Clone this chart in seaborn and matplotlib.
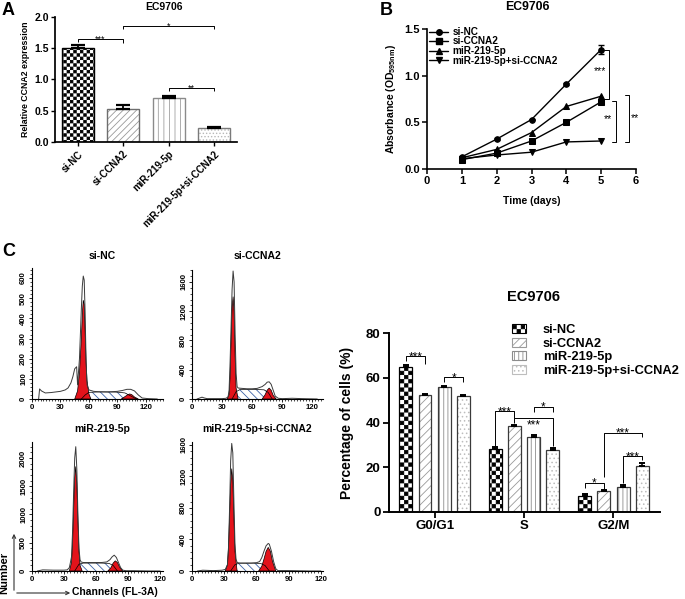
"""EC9706 figure: CCNA2 expression, growth curves and cell-cycle distribution."""

import matplotlib

matplotlib.use("Agg")

import matplotlib.colors as mcolors
import matplotlib.hatch as mhatch
import matplotlib.pyplot as plt
import numpy as np
import pandas as pd
import seaborn as sns
from matplotlib.lines import Line2D
from matplotlib.patches import FancyArrowPatch, Patch
from matplotlib.path import Path as MPath
from matplotlib.ticker import AutoMinorLocator, FormatStrFormatter

# ---- panel A: relative CCNA2 expression ----
A_GROUPS = ["si-NC", "si-CCNA2", "miR-219-5p", "miR-219-5p+si-CCNA2"]
A_MEANS = [1.50, 0.52, 0.71, 0.22]
A_SD = [0.05, 0.07, 0.03, 0.025]

# ---- panel B: absorbance over time ----
B_DAYS = [1, 2, 3, 4, 5]
B_GROUPS = ["si-NC", "si-CCNA2", "miR-219-5p", "miR-219-5p+si-CCNA2"]
B_SINC = [0.13, 0.32, 0.53, 0.91, 1.28]
B_SICCNA2 = [0.10, 0.17, 0.30, 0.50, 0.72]
B_MIR = [0.12, 0.21, 0.39, 0.67, 0.78]
B_COMBO = [0.11, 0.15, 0.18, 0.29, 0.30]
B_SINC_SD = [0.01, 0.01, 0.01, 0.01, 0.05]

# ---- panel C: flow cytometry histograms (channel, count) ----
NC_LINE_X = [7, 8, 10, 14, 20, 25, 30, 35, 38, 41, 43, 45, 47, 48, 50, 52, 53, 54, 55, 56,
             57, 58, 60, 65, 70, 80, 90, 95, 100, 104, 108, 112, 116, 122, 132]
NC_LINE_Y = [0, 50, 40, 30, 32, 35, 38, 45, 55, 80, 110, 150, 160, 70, 200, 450, 560, 610, 590, 420,
             180, 70, 45, 38, 36, 35, 38, 42, 48, 48, 40, 20, 5, 2, 0]
NC_G1_X = [45, 48, 50, 52, 53, 54, 55, 56, 57, 58, 60, 62]
NC_G1_Y = [0, 40, 130, 300, 420, 490, 470, 330, 180, 90, 25, 0]
NC_S_X = [52, 56, 60, 70, 80, 90, 98, 104, 110]
NC_S_Y = [0, 20, 33, 35, 35, 34, 30, 15, 0]
NC_G2_X = [94, 98, 101, 103, 105, 108, 112]
NC_G2_Y = [0, 12, 22, 25, 22, 10, 0]

CC_LINE_X = [5, 8, 10, 12, 15, 20, 30, 34, 36, 37, 38, 39, 40, 41, 42, 43, 44, 45, 46, 50,
             55, 60, 65, 70, 73, 75, 77, 79, 81, 83, 86, 90, 100, 110, 125]
CC_LINE_Y = [0, 15, 25, 15, 5, 5, 5, 10, 30, 120, 500, 1000, 1500, 1750, 1600, 900, 350, 170, 150, 145,
             140, 140, 145, 170, 200, 230, 235, 200, 120, 40, 10, 5, 10, 5, 0]
CC_G1_X = [35, 37, 38, 39, 40, 41, 42, 43, 44, 46]
CC_G1_Y = [0, 60, 300, 800, 1250, 1400, 1200, 600, 150, 0]
CC_S_X = [40, 44, 48, 55, 65, 72, 76, 80]
CC_S_Y = [0, 100, 130, 130, 130, 125, 90, 0]
CC_G2_X = [70, 73, 75, 77, 79, 81, 84]
CC_G2_Y = [0, 60, 120, 150, 120, 50, 0]

MIR_LINE_X = [5, 10, 20, 30, 33, 35, 37, 38, 39, 40, 41, 42, 43, 44, 45, 46, 48, 55, 65, 70,
              73, 75, 77, 79, 81, 83, 85, 88, 95, 110, 120]
MIR_LINE_Y = [0, 20, 15, 15, 20, 60, 250, 700, 1400, 2000, 2200, 1800, 1000, 400, 200, 160, 150, 150, 150, 160,
              200, 250, 280, 240, 150, 60, 15, 5, 5, 0, 0]
MIR_G1_X = [35, 37, 38, 39, 40, 41, 42, 43, 44, 45, 47]
MIR_G1_Y = [0, 150, 500, 1100, 1650, 1850, 1550, 900, 350, 100, 0]
MIR_S_X = [40, 44, 48, 55, 65, 72, 76, 80]
MIR_S_Y = [0, 120, 140, 140, 140, 135, 100, 0]
MIR_G2_X = [71, 74, 76, 78, 80, 82, 85]
MIR_G2_Y = [0, 60, 140, 180, 150, 70, 0]

MC_LINE_X = [5, 10, 20, 28, 31, 33, 34, 35, 36, 37, 38, 39, 40, 41, 42, 44, 50, 55, 60, 63,
             65, 67, 69, 71, 72, 74, 76, 78, 80, 90, 110, 120]
MC_LINE_Y = [0, 10, 5, 10, 20, 80, 300, 800, 1400, 1620, 1500, 900, 350, 150, 110, 100, 100, 100, 105, 120,
             170, 250, 320, 350, 340, 250, 120, 30, 5, 5, 0, 0]
MC_G1_X = [31, 33, 34, 35, 36, 37, 38, 39, 40, 42]
MC_G1_Y = [0, 80, 300, 700, 1100, 1300, 1150, 700, 250, 0]
MC_S_X = [36, 40, 44, 50, 58, 64, 68, 72]
MC_S_Y = [0, 80, 100, 100, 100, 95, 70, 0]
MC_G2_X = [62, 65, 67, 69, 71, 73, 75, 78]
MC_G2_Y = [0, 60, 150, 250, 300, 250, 120, 0]

# ---- panel D: percentage of cells per phase ----
D_PHASES = ["G0/G1", "S", "G2/M"]
D_GROUPS = ["si-NC", "si-CCNA2", "miR-219-5p", "miR-219-5p+si-CCNA2"]
D_SINC = [65.0, 28.0, 7.2]
D_SICCNA2 = [52.1, 38.4, 9.5]
D_MIR = [55.7, 33.7, 11.0]
D_COMBO = [51.8, 27.6, 20.7]
D_SINC_SD = [0.9, 0.9, 0.8]
D_SICCNA2_SD = [0.6, 0.7, 0.4]
D_MIR_SD = [0.7, 0.6, 1.0]
D_COMBO_SD = [0.5, 0.8, 1.3]

W, H = 685, 599


class CheckerHatch(mhatch.HatchPatternBase):
    """Filled checkerboard hatch, used for the '*' hatch character."""

    def __init__(self, hatch, density):
        self.num_cells = hatch.count("*") * density
        self.num_vertices = (self.num_cells ** 2 // 2) * 5 if self.num_cells else 0

    def set_vertices_and_codes(self, vertices, codes):
        n = self.num_cells
        step = 1.0 / n
        shrink = 0.004  # the hatch stroke grows every square a little
        k = 0
        for i in range(n):
            for j in range(n):
                if (i + j) % 2:
                    continue
                x0, y0 = i * step + shrink, j * step + shrink
                x1, y1 = (i + 1) * step - shrink, (j + 1) * step - shrink
                vertices[k:k + 5] = [(x0, y0), (x1, y0), (x1, y1), (x0, y1), (x0, y0)]
                codes[k:k + 5] = [MPath.MOVETO, MPath.LINETO, MPath.LINETO,
                                  MPath.LINETO, MPath.CLOSEPOLY]
                k += 5


mhatch._hatch_types = [CheckerHatch if t is mhatch.Stars else t for t in mhatch._hatch_types]


def box(left, top, right, bottom):
    return [left / W, 1 - bottom / H, (right - left) / W, (bottom - top) / H]


def fig_text(fig, x, y, s, **kw):
    fig.text(x / W, 1 - y / H, s, **kw)


def style_bar(patch, hatch, edge, hatch_color, lw):
    patch.set_hatch(hatch)
    patch.set_edgecolor(edge)
    patch.set_linewidth(lw)
    patch._hatch_color = mcolors.to_rgba(hatch_color)


def bracket(ax, x0, x1, y, y0, y1, text, fs):
    ax.plot([x0, x0, x1, x1], [y0, y, y, y1], color="black", lw=0.7,
            solid_capstyle="butt", clip_on=False)
    ax.annotate(text, ((x0 + x1) / 2, y), xytext=(0, -fs * 0.33), textcoords="offset points",
                ha="center", va="baseline", fontsize=fs, fontweight="normal")


def draw_panel_a(fig):
    ax = fig.add_axes(box(55, 17, 237, 142))
    sns.barplot(x=A_GROUPS, y=A_MEANS, color="white", saturation=1, width=0.7,
                errorbar=None, ax=ax)
    styles = [("*****", "black", "black"), ("/////", "#6e6e6e", "#9a9a9a"),
              ("|||", "#8a8a8a", "#a0a0a0"), (".....", "#7a7a7a", "#b8b8b8")]
    for bar, (hatch, edge, hc) in zip(ax.patches, styles):
        style_bar(bar, hatch, edge, hc, 1.0)
    xs = [p.get_x() + p.get_width() / 2 for p in ax.patches]
    ax.errorbar(xs, A_MEANS, yerr=[np.zeros(4), A_SD], fmt="none", ecolor="black",
                elinewidth=1.3, capsize=5, capthick=1.6)

    bracket(ax, xs[0], xs[1], 1.65, 1.60, 1.59, "***", 6.5)
    bracket(ax, xs[1], xs[3], 1.86, 1.81, 1.81, "*", 6.5)
    bracket(ax, xs[2], xs[3], 0.86, 0.81, 0.81, "**", 6.5)

    ax.set_xlim(-0.5, 3.5)
    ax.set_ylim(0, 2.0)
    ax.set_yticks(np.arange(0, 2.01, 0.5))
    ax.yaxis.set_major_formatter(FormatStrFormatter("%.1f"))
    ax.set_xticks(range(4))
    ax.set_xticklabels(A_GROUPS, rotation=45, ha="right", rotation_mode="anchor", fontsize=7)
    ax.tick_params(axis="y", labelsize=7.5, length=3, width=1, pad=1.5)
    ax.tick_params(axis="x", length=3, width=1, pad=2)
    ax.set_ylabel("Relative CCNA2 expression", fontsize=6.3)
    ax.yaxis.set_label_coords(-0.135, 0.5)
    sns.despine(ax=ax)

    fig_text(fig, 164, 7, "EC9706", ha="center", va="center", fontsize=7.5)
    fig_text(fig, 2, 2, "A", ha="left", va="top", fontsize=13)


def draw_panel_b(fig):
    ax = fig.add_axes(box(427, 29, 636, 169))
    series = [B_SINC, B_SICCNA2, B_MIR, B_COMBO]
    markers = ["o", "s", "^", "v"]
    handles = []
    for vals, marker in zip(series, markers):
        sns.lineplot(x=B_DAYS, y=vals, marker=marker, color="black", linewidth=1.0,
                     markersize=4, markeredgecolor="black", ax=ax)
        handles.append(Line2D([], [], color="black", lw=1.0, marker=marker, markersize=4))
    ax.errorbar(B_DAYS, B_SINC, yerr=B_SINC_SD, fmt="none", ecolor="black",
                elinewidth=1.0, capsize=2.5, capthick=1.0)

    # vertical significance brackets on the right
    for x, y_top, y_bot, x_text, y_text, text in [
        (5.22, 1.28, 0.745, 4.98, 1.05, "***"),
        (5.44, 0.73, 0.29, 5.20, 0.53, "**"),
        (5.80, 0.79, 0.29, 5.96, 0.55, "**"),
    ]:
        ax.plot([x - 0.13, x, x, x - 0.13], [y_top, y_top, y_bot, y_bot], color="black",
                lw=0.7, clip_on=False)
        ax.text(x_text, y_text, text, ha="center", va="center", fontsize=7.5,
                fontweight="normal")

    leg = ax.legend(handles, B_GROUPS, loc="upper left", bbox_to_anchor=(429 / W, 1 - 27 / H),
                    bbox_transform=fig.transFigure, frameon=False, fontsize=7.2,
                    handlelength=1.9, handletextpad=0.45, labelspacing=-0.05,
                    borderpad=0, borderaxespad=0)
    for t in leg.get_texts():
        t.set_fontweight("bold")

    ax.set_xlim(0, 6)
    ax.set_ylim(0, 1.5)
    ax.set_xticks(range(7))
    ax.set_yticks([0, 0.5, 1.0, 1.5])
    ax.yaxis.set_major_formatter(FormatStrFormatter("%.1f"))
    ax.tick_params(labelsize=8, length=3.5, width=1.1, pad=1.5)
    ax.set_xlabel("Time (days)", fontsize=7.5)
    ax.set_ylabel(r"Absorbance (OD$_{\mathbf{595nm}}$)", fontsize=7.5)
    ax.yaxis.set_label_coords(-0.14, 0.5)
    ax.xaxis.set_label_coords(0.5, -0.19)
    for s in ("left", "bottom"):
        ax.spines[s].set_linewidth(1.2)
    sns.despine(ax=ax)

    fig_text(fig, 527, 7, "EC9706", ha="center", va="center", fontsize=8.8)
    fig_text(fig, 380, 2, "B", ha="left", va="top", fontsize=13)


def draw_flow(fig, rect, title, title_xy, x_max, y_max, y_step, line, g1, s_phase, g2):
    ax = fig.add_axes(box(*rect))
    ax.fill(s_phase[0], s_phase[1], facecolor="white", edgecolor="#3d63a8",
            hatch="\\\\\\\\", linewidth=0)
    ax.plot(s_phase[0], s_phase[1], color="black", lw=0.5)
    for peak in (g1, g2):
        ax.fill(peak[0], peak[1], facecolor="#e3131b", edgecolor="black", linewidth=0.5)
    ax.plot(line[0], line[1], color="#3a3a3a", lw=0.7)

    ax.set_xlim(0, x_max)
    ax.set_ylim(0, y_max)
    ax.set_xticks([0, 30, 60, 90, 120])
    ax.set_yticks(np.arange(0, y_max, y_step))
    ax.xaxis.set_minor_locator(AutoMinorLocator(10))
    ax.yaxis.set_minor_locator(AutoMinorLocator(5))
    ax.tick_params(which="major", labelsize=5.6, length=2.5, width=0.6, pad=1)
    ax.tick_params(which="minor", length=1.4, width=0.5)
    ax.tick_params(axis="y", labelrotation=90)
    for t in ax.get_yticklabels():
        t.set_va("center")
    for sp in ("left", "bottom"):
        ax.spines[sp].set_linewidth(0.8)
    sns.despine(ax=ax)
    fig_text(fig, title_xy[0], title_xy[1], title, ha="center", va="center", fontsize=7.5)


def draw_panel_c(fig):
    draw_flow(fig, (32, 268, 163, 399), "si-NC", (102, 256), 138, 650, 100,
              (NC_LINE_X, NC_LINE_Y), (NC_G1_X, NC_G1_Y), (NC_S_X, NC_S_Y), (NC_G2_X, NC_G2_Y))
    draw_flow(fig, (192, 270, 323, 399), "si-CCNA2", (257, 256), 130.7, 1764, 400,
              (CC_LINE_X, CC_LINE_Y), (CC_G1_X, CC_G1_Y), (CC_S_X, CC_S_Y), (CC_G2_X, CC_G2_Y))
    draw_flow(fig, (32, 442, 163, 571), "miR-219-5p", (102, 429), 122.7, 2283, 500,
              (MIR_LINE_X, MIR_LINE_Y), (MIR_G1_X, MIR_G1_Y), (MIR_S_X, MIR_S_Y),
              (MIR_G2_X, MIR_G2_Y))
    draw_flow(fig, (192, 442, 323, 571), "miR-219-5p+si-CCNA2", (257, 429), 122, 1638, 400,
              (MC_LINE_X, MC_LINE_Y), (MC_G1_X, MC_G1_Y), (MC_S_X, MC_S_Y), (MC_G2_X, MC_G2_Y))

    fig_text(fig, 2, 243, "C", ha="left", va="top", fontsize=13)
    for start, end in [((14, 593), (14, 531)), ((14, 593), (73, 593))]:
        fig.add_artist(FancyArrowPatch((start[0] / W, 1 - start[1] / H), (end[0] / W, 1 - end[1] / H),
                                       transform=fig.transFigure, arrowstyle="->",
                                       mutation_scale=6, lw=0.8, color="#333333"))
    fig_text(fig, 4, 573, "Number", rotation=90, ha="center", va="center", fontsize=8)
    fig_text(fig, 72, 592, "Channels (FL-3A)", ha="left", va="center", fontsize=7.5)


def draw_panel_d(fig):
    ax = fig.add_axes(box(389, 333, 660, 512))
    values = [D_SINC, D_SICCNA2, D_MIR, D_COMBO]
    sds = [D_SINC_SD, D_SICCNA2_SD, D_MIR_SD, D_COMBO_SD]
    df = pd.DataFrame({
        "phase": D_PHASES * 4,
        "group": np.repeat(D_GROUPS, 3),
        "pct": np.concatenate(values),
    })
    sns.barplot(data=df, x="phase", y="pct", hue="group", hue_order=D_GROUPS,
                palette=["white"] * 4, saturation=1, width=0.86, gap=0.33,
                errorbar=None, legend=False, ax=ax)
    styles = [("****", "black", "black"), ("////", "#3a3a3a", "#9a9a9a"),
              ("||||", "#3a3a3a", "#8c8c8c"), ("....", "#3a3a3a", "#bdbdbd")]
    xs = []
    for container, (hatch, edge, hc), vals, sd in zip(ax.containers, styles, values, sds):
        for bar in container:
            style_bar(bar, hatch, edge, hc, 0.9)
        centers = [b.get_x() + b.get_width() / 2 for b in container]
        xs.append(centers)
        ax.errorbar(centers, vals, yerr=[np.zeros(3), sd], fmt="none", ecolor="black",
                    elinewidth=1.1, capsize=2.3, capthick=1.4)

    fs = 8.5
    bracket(ax, xs[0][0], xs[1][0], 69.7, 67.5, 66.3, "***", fs)
    bracket(ax, xs[2][0], xs[3][0], 60.3, 58.0, 58.0, "*", fs)
    bracket(ax, xs[0][1], xs[1][1], 45.1, 29.6, 42.0, "***", fs)
    bracket(ax, xs[1][1], xs[3][1], 42.0, 40.0, 29.3, "", fs)
    ax.text(xs[2][1], 38.6, "***", ha="center", va="center", fontsize=fs, fontweight="normal")
    bracket(ax, xs[2][1], xs[3][1], 47.0, 44.6, 44.6, "*", fs)
    bracket(ax, xs[0][2], xs[1][2], 13.0, 10.6, 10.4, "*", fs)
    bracket(ax, xs[1][2], xs[3][2], 35.3, 15.6, 33.5, "***", fs)
    bracket(ax, xs[2][2], xs[3][2], 25.0, 13.0, 23.2, "***", fs)

    handles = [Patch(facecolor="white", edgecolor=edge if i == 0 else hc, hatch=hatch, lw=0.8)
               for i, (hatch, edge, hc) in enumerate(styles)]
    ax.legend(handles, D_GROUPS, loc="upper left", bbox_to_anchor=(512 / W, 1 - 324 / H),
              bbox_transform=fig.transFigure, frameon=False, fontsize=9.3,
              handlelength=1.1, handleheight=0.7, handletextpad=1.3, labelspacing=0.12,
              borderpad=0, borderaxespad=0)

    ax.set_xlim(-0.51, 2.52)
    ax.set_ylim(0, 80)
    ax.set_yticks([0, 20, 40, 60, 80])
    ax.set_xlabel("")
    ax.set_ylabel("Percentage of cells (%)", fontsize=10)
    ax.yaxis.set_label_coords(-0.128, 0.5)
    ax.tick_params(labelsize=9.5, length=4, width=1.3, pad=2)
    for sp in ("left", "bottom"):
        ax.spines[sp].set_linewidth(1.4)
    sns.despine(ax=ax)

    fig_text(fig, 534, 297, "EC9706", ha="center", va="center", fontsize=10.5)


def main() -> None:
    sns.set_theme(style="ticks")
    plt.rcParams["font.family"] = ["Liberation Sans", "DejaVu Sans"]
    plt.rcParams["font.weight"] = "bold"
    plt.rcParams["axes.labelweight"] = "bold"
    plt.rcParams["mathtext.fontset"] = "custom"
    plt.rcParams["mathtext.rm"] = "Liberation Sans:bold"
    plt.rcParams["mathtext.bf"] = "Liberation Sans:bold"
    plt.rcParams["hatch.linewidth"] = 0.6
    for key in ("axes.edgecolor", "axes.labelcolor", "xtick.color", "ytick.color", "text.color"):
        plt.rcParams[key] = "black"

    fig = plt.figure(figsize=(W / 100, H / 100), dpi=100)
    draw_panel_a(fig)
    draw_panel_b(fig)
    draw_panel_c(fig)
    draw_panel_d(fig)
    fig.savefig("out.png", dpi=100, facecolor="white")
    plt.close(fig)


if __name__ == "__main__":
    main()
